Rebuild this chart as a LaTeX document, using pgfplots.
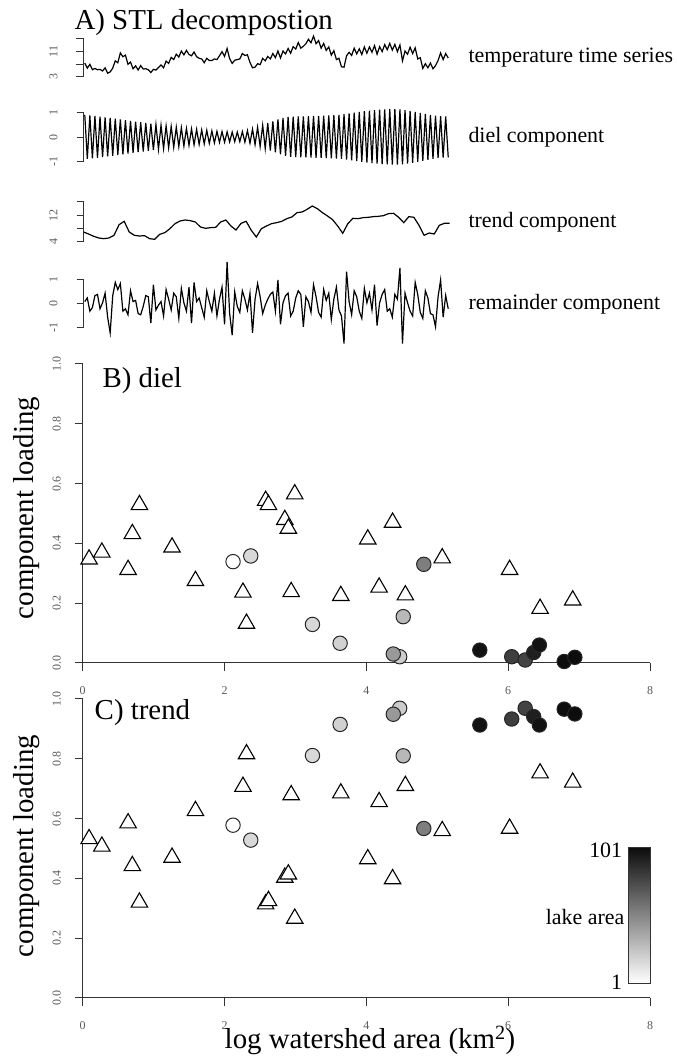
\documentclass[border=0pt]{standalone}
\usepackage{pgfplots}
\pgfplotsset{compat=1.18}
\usepackage{pgfplotstable}
\usepackage{fontspec}
\setmainfont{Liberation Serif}
\colorlet{axisc}{black!80}
\colorlet{tickc}{black!65}

% STL decomposition, sampled at day+0.25 and day+0.75
\pgfplotstableread{
t temp diel rem
0.25 7.4 0.92 0.10
0.75 5.8 -0.87 0.25
1.25 7.0 0.90 -0.30
1.75 5.3 -0.85 -0.15
2.25 5.7 0.88 0.35
2.75 5.3 -0.83 0.40
3.25 5.4 0.85 -0.20
3.75 4.9 -0.80 0.05
4.25 5.9 0.82 0.45
4.75 4.2 -0.77 -0.55
5.25 4.6 0.80 -1.20
5.75 5.8 -0.75 0.35
6.25 8.1 0.77 0.90
6.75 7.5 -0.72 0.60
7.25 10.6 0.74 0.85
7.75 9.4 -0.69 -0.30
8.25 9.9 0.71 -0.20
8.75 7.0 -0.66 -0.45
9.25 7.7 0.68 0.55
9.75 5.6 -0.63 0.10
10.25 6.5 0.65 0.15
10.75 5.2 -0.60 -0.40
11.25 6.6 0.62 -0.45
11.75 5.5 -0.57 -0.10
12.25 5.6 0.59 0.35
12.75 5.3 -0.54 0.30
13.25 4.4 0.56 -0.80
13.75 5.4 -0.51 0.80
14.25 5.2 0.53 -0.25
14.75 6.0 -0.48 -0.05
15.25 6.8 0.50 0.10
15.75 5.9 -0.45 -0.50
16.25 8.0 0.47 0.60
16.75 7.3 -0.42 0.20
17.25 9.2 0.45 -0.25
17.75 8.5 -0.40 0.45
18.25 10.2 0.42 0.30
18.75 9.3 -0.37 -0.60
19.25 11.2 0.40 0.65
19.75 10.0 -0.35 0.05
20.25 11.4 0.37 -0.30
20.75 10.1 -0.32 0.70
21.25 9.7 0.35 -0.80
21.75 10.9 -0.30 0.90
22.25 9.4 0.33 0.10
22.75 8.9 -0.28 0.25
23.25 8.7 0.31 -0.15
23.75 7.5 -0.26 -0.55
24.25 8.9 0.29 0.55
24.75 8.2 -0.24 0.10
25.25 8.2 0.27 -0.30
25.75 8.7 -0.22 0.45
26.25 8.5 0.25 -0.50
26.75 9.7 -0.20 0.20
27.25 11.0 0.24 0.70
27.75 9.5 -0.19 -0.85
28.25 12.0 0.23 1.75
28.75 8.8 -0.18 -0.40
29.25 7.3 0.22 -1.30
29.75 8.3 -0.17 0.50
30.25 8.5 0.22 -0.10
30.75 8.7 -0.17 -0.35
31.25 10.4 0.24 0.55
31.75 9.8 -0.19 0.20
32.25 10.0 0.28 -0.25
32.75 7.6 -0.23 0.45
33.25 5.9 0.34 -1.20
33.75 6.1 -0.29 0.20
34.25 7.2 0.42 0.85
34.75 6.9 -0.37 0.30
35.25 8.9 0.50 -0.40
35.75 8.1 -0.45 -0.05
36.25 9.5 0.58 0.20
36.75 8.7 -0.53 0.40
37.25 10.4 0.66 0.50
37.75 9.1 -0.61 -0.30
38.25 11.2 0.74 1.00
38.75 9.0 -0.69 -0.85
39.25 11.2 0.80 0.05
39.75 10.3 -0.75 0.35
40.25 12.0 0.84 0.45
40.75 10.5 -0.79 -0.50
41.25 12.6 0.85 -0.30
41.75 11.8 -0.80 0.25
42.25 13.9 0.86 0.55
42.75 12.1 -0.81 0.40
43.25 12.7 0.86 -0.95
43.75 13.5 -0.81 0.30
44.25 14.9 0.87 0.10
44.75 13.8 -0.82 -0.35
45.25 15.9 0.88 0.80
45.75 13.5 -0.83 0.30
46.25 14.5 0.88 -0.35
46.75 12.1 -0.83 -0.55
47.25 13.6 0.89 0.60
47.75 11.4 -0.84 0.15
48.25 12.5 0.90 0.45
48.75 9.9 -0.85 -0.65
49.25 11.3 0.91 0.20
49.75 8.5 -0.86 0.70
50.25 8.9 0.92 -0.25
50.75 6.2 -0.87 -0.50
51.25 6.1 0.95 -1.65
51.75 9.7 -0.90 1.35
52.25 10.8 0.98 0.10
52.75 9.8 -0.93 -0.45
53.25 12.1 1.01 0.55
53.75 10.3 -0.96 0.30
54.25 11.9 1.04 -0.30
54.75 10.1 -0.99 -0.60
55.25 12.5 1.07 0.65
55.75 10.5 -1.02 0.05
56.25 12.5 1.10 0.45
56.75 10.8 -1.05 -0.25
57.25 12.9 1.12 0.80
57.75 10.2 -1.07 -0.90
58.25 12.6 1.14 0.05
58.75 11.0 -1.09 0.40
59.25 13.2 1.15 0.60
59.75 11.6 -1.10 -0.30
60.25 13.6 1.16 -0.20
60.75 11.5 -1.11 -0.55
61.25 13.3 1.16 0.40
61.75 11.0 -1.11 0.20
62.25 13.1 1.15 1.50
62.75 8.1 -1.10 -1.65
63.25 11.2 1.12 0.45
63.75 10.2 -1.07 0.05
64.25 12.4 1.08 -0.30
64.75 10.4 -1.03 -0.50
65.25 12.2 1.04 0.90
65.75 8.7 -0.99 0.40
66.25 9.1 1.00 -0.35
66.75 5.7 -0.95 -0.60
67.25 7.2 0.96 0.55
67.75 5.9 -0.91 0.25
68.25 7.4 0.92 -0.40
68.75 5.6 -0.87 -0.45
69.25 6.6 0.89 -0.95
69.75 8.2 -0.84 0.30
70.25 10.6 0.87 1.00
70.75 8.5 -0.82 -0.55
71.25 10.4 0.86 0.35
71.75 9.0 -0.81 -0.20
}\stltab

\pgfplotstableread{
t v
0 7.0
1 6.4
2 5.7
3 5.2
4 5.0
5 5.2
6 6.0
7 9.2
8 10.2
9 7.0
10 6.0
11 5.8
12 5.9
13 5.0
14 4.8
15 6.3
16 6.8
17 8.0
18 9.5
19 10.3
20 10.6
21 10.4
22 10.0
23 8.5
24 8.1
25 8.3
26 8.4
27 10.0
28 10.6
29 8.8
30 7.6
31 9.6
32 10.2
33 7.5
34 5.5
35 8.0
36 8.8
37 9.5
38 9.8
39 10.2
40 11.0
41 11.5
42 12.8
43 13.0
44 13.8
45 14.8
46 14.0
47 12.8
48 11.8
49 10.7
50 8.8
51 6.6
52 9.5
53 11.1
54 11.0
55 11.3
56 11.4
57 11.6
58 11.7
59 11.9
60 12.5
61 12.6
62 11.4
63 9.8
64 11.6
65 11.4
66 9.0
67 6.0
68 6.7
69 6.4
70 9.0
71 9.6
72 9.6
}\trendtab

% sites without a lake (triangles)
\pgfplotstableread{
x diel trend
0.09 0.355 0.540
0.27 0.378 0.515
0.64 0.320 0.593
0.70 0.440 0.450
0.80 0.537 0.328
1.26 0.395 0.478
1.59 0.283 0.634
2.26 0.244 0.715
2.31 0.140 0.824
2.58 0.551 0.322
2.62 0.537 0.333
2.85 0.487 0.411
2.90 0.458 0.422
2.94 0.246 0.687
2.99 0.573 0.274
3.64 0.233 0.693
4.02 0.422 0.473
4.18 0.261 0.664
4.37 0.478 0.406
4.55 0.235 0.718
5.07 0.359 0.567
6.02 0.320 0.575
6.45 0.190 0.760
6.91 0.218 0.729
}\tritab

% sites with a lake (circles), shaded by lake area
\pgfplotstableread{
x diel trend lake
2.12 0.339 0.578 1
2.37 0.358 0.528 17
3.24 0.129 0.811 17
3.63 0.066 0.915 20
4.47 0.021 0.969 22
4.38 0.030 0.949 43
4.52 0.155 0.810 30
4.81 0.330 0.567 54
5.60 0.043 0.913 98
6.05 0.021 0.933 80
6.24 0.010 0.969 78
6.36 0.035 0.941 93
6.44 0.060 0.913 98
6.79 0.005 0.966 100
6.94 0.019 0.950 100
}\circtab

\pgfplotsset{
  stlax/.style={scale only axis, width=366bp, xmin=0, xmax=72,
    axis x line=none, axis y line=left, xtick=\empty,
    axis line style={-, axisc, line width=1bp},
    tick align=outside, major tick length=7bp,
    tick style={axisc, line width=1bp},
    /pgf/number format/assume math mode=true,
    yticklabel style={font=\fontsize{12}{12}\selectfont, text=tickc,
      anchor=center, xshift=-23bp, rotate=90},
    clip=false},
  stlline/.style={black, line width=1.2bp, mark=none},
  loadax/.style={scale only axis, width=567.3bp, height=299bp,
    xmin=0, xmax=8, ymin=0, ymax=1,
    axis lines=left, axis line style={-, axisc, line width=1bp},
    tick align=outside, major tick length=8bp,
    tick style={axisc, line width=1bp},
    xtick={0,2,4,6,8}, ytick={0,0.2,0.4,0.6,0.8,1},
    /pgf/number format/assume math mode=true,
    /pgf/number format/fixed, /pgf/number format/fixed zerofill,
    /pgf/number format/precision=1,
    xticklabels={0,2,4,6,8},
    xticklabel style={font=\fontsize{12}{12}\selectfont, text=tickc,
      anchor=center, yshift=-20bp},
    yticklabel style={font=\fontsize{12}{12}\selectfont, text=tickc,
      anchor=center, xshift=-18bp, rotate=90},
    colormap={lake}{gray(0cm)=(1); gray(1cm)=(0.05)},
    point meta min=1, point meta max=101,
    clip=false},
  trimark/.style={only marks, mark=triangle*, mark size=9.5bp,
    mark options={fill=white, draw=black, line width=1.1bp, yshift=-2.4bp}},
  circmark/.style={scatter, only marks, mark=*, mark size=7.2bp,
    point meta=explicit,
    scatter/use mapped color={draw=black!85, fill=mapped color},
    mark options={line width=1bp}}
}

\begin{document}
\begin{tikzpicture}
\useasboundingbox (0,0) rectangle (677bp,1059bp);

% ---- A) STL decomposition
\node[anchor=base west, font=\fontsize{29}{29}\selectfont] at (71bp,1029bp) {A) STL decompostion};

\begin{axis}[stlax, at={(83.5bp,982bp)}, anchor=south west, height=38bp,
  ymin=3, ymax=15, ytick={3,7,11,15}, yticklabels={3,,11,}]
\addplot[stlline] table[x=t, y=temp] \stltab;
\end{axis}

\begin{axis}[stlax, at={(83.5bp,897bp)}, anchor=south west, height=49bp,
  ymin=-1, ymax=1, ytick={-1,0,1}]
\addplot[stlline] table[x=t, y=diel] \stltab;
\end{axis}

\begin{axis}[stlax, at={(83.5bp,817bp)}, anchor=south west, height=40bp,
  ymin=4, ymax=16, ytick={4,8,12,16}, yticklabels={4,,12,}]
\addplot[stlline] table[x=t, y=v] \trendtab;
\end{axis}

\begin{axis}[stlax, at={(83.5bp,731bp)}, anchor=south west, height=48bp,
  ymin=-1, ymax=1, ytick={-1,0,1}]
\addplot[stlline] table[x=t, y=rem] \stltab;
\end{axis}

\begin{scope}[font=\fontsize{22}{22}\selectfont]
\node[anchor=west] at (465bp,1001bp) {temperature time series};
\node[anchor=west] at (465bp,922bp) {diel component};
\node[anchor=west] at (465bp,837bp) {trend component};
\node[anchor=west] at (465bp,755bp) {remainder component};
\end{scope}

% ---- B) diel loadings
\begin{axis}[loadax, at={(82.7bp,396bp)}, anchor=south west]
\addplot[trimark] table[x=x, y=diel] \tritab;
\addplot[circmark] table[x=x, y=diel, meta=lake] \circtab;
\node[anchor=base west, font=\fontsize{29}{29}\selectfont] at (axis cs:0.23,0.92) {B) diel};
\end{axis}

% ---- C) trend loadings
\begin{axis}[loadax, at={(82.7bp,61bp)}, anchor=south west]
\addplot[trimark] table[x=x, y=trend] \tritab;
\addplot[circmark] table[x=x, y=trend, meta=lake] \circtab;
\node[anchor=base west, font=\fontsize{29}{29}\selectfont] at (axis cs:0.12,0.93) {C) trend};
\shade[bottom color=white, top color=black!95, draw=axisc, line width=1bp]
  (axis cs:7.69,0.05) rectangle (axis cs:8.0,0.502);
\begin{scope}[font=\fontsize{22}{22}\selectfont, inner sep=0pt]
\node[anchor=north east] at (axis cs:7.61,0.518) {101};
\node[anchor=base east] at (axis cs:7.61,0.027) {1};
\node[anchor=east] at (axis cs:7.64,0.271) {lake area};
\end{scope}
\end{axis}

\begin{scope}[font=\fontsize{29}{29}\selectfont]
\node[rotate=90] at (27bp,551bp) {component loading};
\node[rotate=90] at (27bp,213bp) {component loading};
\node[anchor=base] at (370bp,11bp) {log watershed area (km\textsuperscript{2})};
\end{scope}
\end{tikzpicture}
\end{document}
